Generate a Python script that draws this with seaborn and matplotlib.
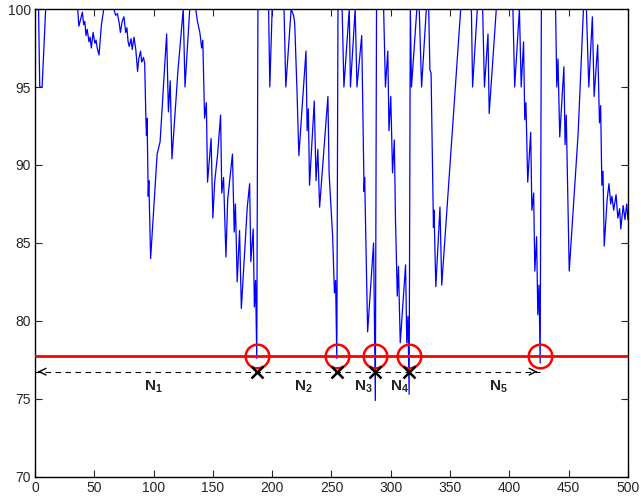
import numpy as np
import pandas as pd
import matplotlib
matplotlib.use("Agg")
import matplotlib.pyplot as plt
import seaborn as sns

# series vertices (sample index, value)
idx = [1, 3, 4, 6, 9,
       36, 37, 40, 41, 42, 43, 44, 45.5, 46.5, 47.5, 49, 50.5, 51.5, 52.5, 54, 56, 58,
       66.5, 68, 69.5, 71, 72, 73.5, 75, 76.5, 77.5, 78.5, 79.5, 81, 82, 83.5, 85, 86.5, 87.5,
       89, 90, 91.5, 92.5, 93.5, 94, 94.5, 95.5, 96, 97.5,
       103, 105.5, 111, 112.5, 114, 115.5, 120.5, 125, 126.5, 130.5,
       135.5, 137, 139, 139.5, 140.5, 141.5, 143, 144.5, 145.5, 148.5, 150, 151.5, 154, 156.5,
       157.5, 159, 161, 162.5, 166.5, 168, 169, 170.5, 172.5, 174, 179, 181, 182, 184, 185, 186,
       187, 188,
       197, 198, 200, 210, 211.5, 216, 218, 219, 220.5, 221, 222.5, 228.5, 229.5, 230.5, 231.5,
       235.5, 237, 238.5, 240, 247, 248, 250, 251, 252.5, 253.5, 254.5, 255.5,
       259, 260.5, 265, 266, 270, 271.5, 275.5, 277.5, 278, 280.5, 285.5, 287, 288,
       294, 295.5, 297.5, 298.5, 300, 301.5, 303, 304, 305.5, 306.5, 308, 312.5, 313.5, 314.5,
       315.5, 316.5, 317.5, 322, 324, 326, 330, 332, 333, 334, 336, 336.5, 338, 341.5, 343, 359,
       368, 369, 373, 377.5, 379, 382, 383, 389,
       403, 404.5, 408.5, 410, 412, 413, 414, 415.5, 418, 419, 420.5, 421.5, 423, 424, 425, 426,
       427,
       439, 440, 441, 442.5, 446, 447, 448, 450.5, 458, 462.5, 465, 467, 470, 471.5, 474.5, 476,
       477, 478, 479, 480, 482.5, 484, 485.5, 486.5, 488, 490, 491.5, 493, 494, 496, 497.5, 499,
       500]
vals = [100, 100, 95, 95, 100,
        100, 98.9, 99.8, 99.0, 99.2, 98.3, 98.7, 97.9, 98.2, 97.5, 98.5, 97.8, 98.0, 97.5, 97.05, 99.0, 100,
        100, 99.6, 99.7, 99.1, 98.5, 99.2, 99.5, 98.5, 98.8, 97.9, 97.6, 98.1, 97.4, 98.2, 97.4, 96.0, 96.8,
        97.3, 96.6, 96.9, 96.5, 93.0, 91.9, 93.0, 88.0, 89.0, 84.0,
        90.7, 91.5, 98.4, 93.4, 95.4, 90.4, 96.0, 100, 95, 100,
        100, 99.2, 98.5, 98.2, 97.5, 98.0, 93.0, 94.0, 88.9, 91.7, 86.6, 88.9, 90.7, 93.2,
        88.2, 89.2, 84.1, 87.8, 90.7, 85.7, 87.5, 82.5, 85.8, 80.8, 87.3, 88.8, 83.8, 85.9, 80.9, 82.6,
        77.6, 100,
        100, 95, 100, 100, 95, 100, 99.6, 99.1, 95.6, 94.6, 90.6, 97.3, 92.2, 93.6, 88.7,
        94.1, 89.0, 91.0, 87.3, 94.4, 89.5, 86.7, 85.4, 81.8, 82.6, 77.6, 100,
        100, 95, 100, 95, 100, 95, 98.3, 88.3, 89.2, 79.3, 85.0, 74.9, 100,
        100, 95, 97.3, 92.2, 94.4, 89.5, 91.6, 86.5, 81.6, 83.5, 78.6, 83.6, 78.6, 80.3,
        75.3, 100, 95, 100, 100, 95, 100, 100, 96.1, 95.9, 86.0, 87.1, 82.2, 87.3, 82.3, 100,
        100, 95, 100, 100, 95, 98.4, 93.3, 100,
        100, 95, 100, 95, 97.9, 92.9, 94.0, 88.9, 92.1, 87.1, 88.2, 83.2, 85.4, 80.4, 82.3, 77.3,
        100,
        100, 95, 96.8, 91.8, 96.3, 91.3, 93.2, 83.2, 92.0, 100, 100, 95, 99.5, 94.4, 97.7, 92.7,
        93.8, 88.7, 89.6, 84.8, 87.8, 88.8, 87.5, 88.0, 87.1, 88.1, 86.6, 87.2, 85.9, 87.4, 86.5, 87.5,
        86.5]

threshold = 77.75
hits = [187, 254.5, 287, 315.5, 426]
seg_labels = [r'$\mathbf{N_1}$', r'$\mathbf{N_2}$', r'$\mathbf{N_3}$', r'$\mathbf{N_4}$', r'$\mathbf{N_5}$']
label_x = [99.5, 226, 276.5, 307, 391]

df = pd.DataFrame({"t": idx, "v": vals})

sns.set_style("ticks")
plt.rcParams['font.family'] = ['Liberation Sans', 'DejaVu Sans']
plt.rcParams['xtick.direction'] = 'in'
plt.rcParams['ytick.direction'] = 'in'
plt.rcParams['mathtext.fontset'] = 'custom'
plt.rcParams['mathtext.bf'] = 'Liberation Sans:bold'

fig = plt.figure(figsize=(6.41, 5.01), dpi=100)
ax = fig.add_axes([0.0546, 0.048, 0.925, 0.934])

sns.lineplot(data=df, x="t", y="v", sort=False, estimator=None, color=(0, 0, 1), lw=0.9, ax=ax)

# threshold line and crossings
ax.axhline(threshold, color='red', lw=2, zorder=4)
ax.plot(hits, [threshold] * len(hits), 'o', ms=17, mfc='none', mec='red', mew=1.8, zorder=5)

# dashed interval line with arrow ends
y_arr = 76.75
ax.plot([0, hits[-1]], [y_arr, y_arr], '--', color='k', lw=0.8, dashes=(5, 4), zorder=5)
ax.plot(hits[:-1], [y_arr] * 4, 'x', ms=9, mec='k', mew=1.8, zorder=6)
ax.annotate('', xy=(0, y_arr), xytext=(6, y_arr),
            arrowprops=dict(arrowstyle='->', color='k', lw=1, mutation_scale=12), zorder=6)
ax.annotate('', xy=(hits[-1], y_arr), xytext=(hits[-1] - 6, y_arr),
            arrowprops=dict(arrowstyle='->', color='k', lw=1, mutation_scale=12), zorder=6)

for lx, lab in zip(label_x, seg_labels):
    ax.text(lx, 75.75, lab, ha='center', va='center', fontsize=11)

ax.set_xlim(0, 500)
ax.set_ylim(70, 100)
ax.set_xticks(np.arange(0, 501, 50))
ax.set_yticks(np.arange(70, 101, 5))
ax.set_xlabel('')
ax.set_ylabel('')
ax.tick_params(top=True, right=True, length=5, width=0.8, labelsize=10, pad=3)
for s in ax.spines.values():
    s.set_linewidth(1)
    s.set_color('k')

fig.savefig("out.png", dpi=100)
